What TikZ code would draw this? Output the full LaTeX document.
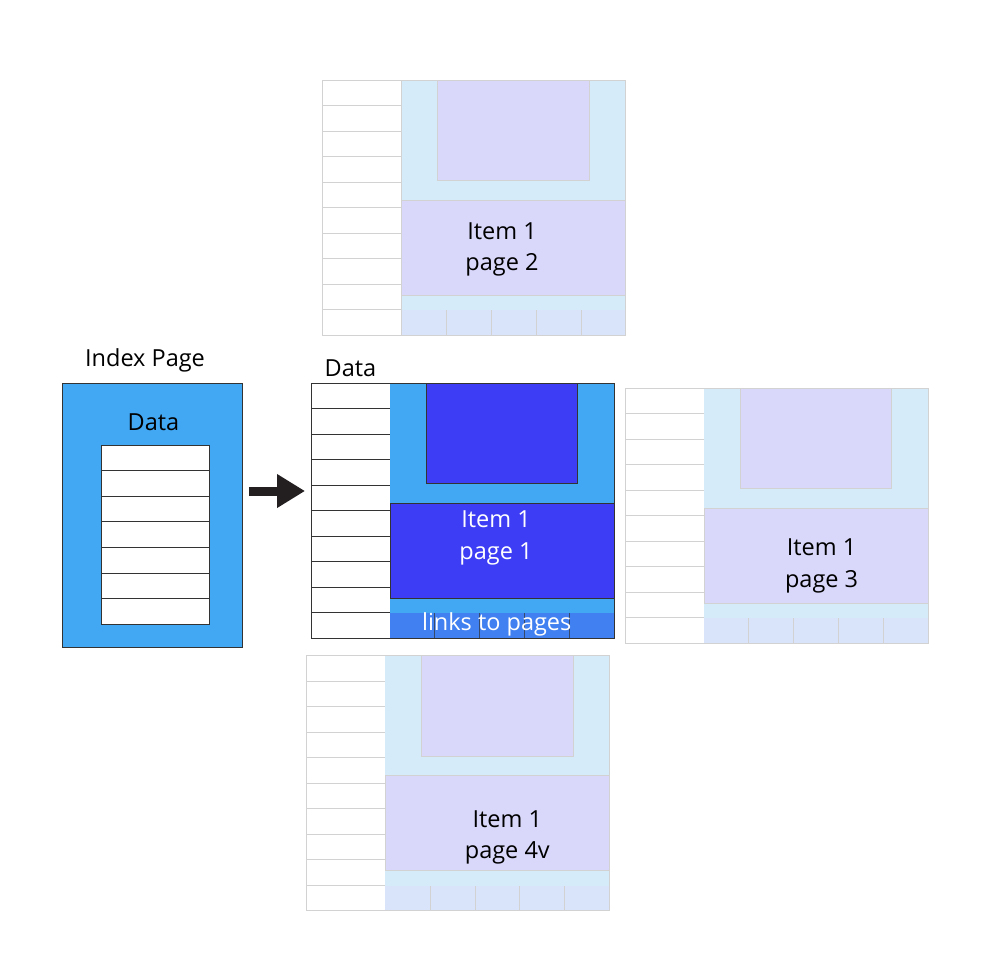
\documentclass[tikz,border=0pt]{standalone}
\usepackage{fontspec}
\setmainfont{Open Sans}
\usetikzlibrary{arrows.meta}
\definecolor{idxblue}{HTML}{42A8F4}
\definecolor{deepblue}{HTML}{3D3DF5}
\definecolor{linkblue}{HTML}{4080F0}
\definecolor{fadelight}{HTML}{D6EBFA}
\definecolor{fadepurple}{HTML}{D9D8FA}
\definecolor{fadelinks}{HTML}{D9E4FA}
\definecolor{fadegrid}{HTML}{D2D2D2}
\definecolor{darkline}{HTML}{333333}
\definecolor{arrowcol}{HTML}{231F20}
\tikzset{
  act grid/.style={draw=darkline, line width=0.9pt, fill=white},
  act light/.style={fill=idxblue},
  act inner/.style={draw=darkline, line width=0.9pt, fill=deepblue},
  act item/.style={draw=darkline, line width=0.9pt, fill=deepblue},
  act links/.style={fill=linkblue},
  act div/.style={draw=darkline!70!linkblue, line width=0.7pt},
  act outline/.style={draw=darkline, line width=0.9pt},
  act text/.style={text=white},
  fade grid/.style={draw=fadegrid, line width=0.8pt, fill=white},
  fade light/.style={fill=fadelight},
  fade inner/.style={draw=fadegrid, line width=0.8pt, fill=fadepurple},
  fade item/.style={draw=fadegrid, line width=0.8pt, fill=fadepurple},
  fade links/.style={fill=fadelinks},
  fade div/.style={draw=fadegrid, line width=0.7pt},
  fade outline/.style={draw=fadegrid, line width=0.8pt},
  fade text/.style={text=black},
  lbl/.style={font=\fontsize{23.5}{31.5}\selectfont, inner sep=0pt},
  pagebox/.style={rectangle, minimum width=303pt, minimum height=255pt, inner sep=0pt, anchor=north west},
  bigarrow/.style={draw=arrowcol, line width=9pt, -{Triangle[length=28pt,width=32pt]}, shorten <=6pt, shorten >=6pt},
}
% #1 name, #2 x, #3 y, #4 scheme, #5 text x, #6 text y, #7 label
\newcommand{\dbpage}[7]{%
  \begin{scope}[shift={(#2,#3)}]
    \node[pagebox] (#1) at (0,0) {};
    \foreach \i in {0,...,9}
      \path[#4 grid] (0,\i*25.5) rectangle (79,\i*25.5+25.5);
    \path[#4 light] (79,0) rectangle (303,255);
    \path[#4 inner] (115,0) rectangle (266.7,100.7);
    \path[#4 item] (79,120) rectangle (303,215);
    \path[#4 links] (79,230) rectangle (303,255);
    \foreach \k in {1,...,4}
      \path[#4 div] (79+\k*44.8,230) -- (79+\k*44.8,255);
    \path[#4 outline] (0,0) rectangle (303,255);
    \node[lbl, #4 text, align=center] (#1-label) at (#5,#6) {#7};
  \end{scope}}
\begin{document}
\begin{tikzpicture}[x=1pt,y=-1pt]
  \useasboundingbox (0,0) rectangle (1000,959);
  \fill[white] (0,0) rectangle (1000,959);

  % index page
  \node[lbl, anchor=base] (idxtitle) at (145,366.7) {Index Page};
  \node[rectangle, draw=darkline, line width=0.9pt, fill=idxblue,
        minimum width=180pt, minimum height=264pt, inner sep=0pt] (idx) at (152.5,515) {};
  \node[lbl, anchor=base] (idxdata) at (153.5,430) {Data};
  \foreach \i in {0,...,6}
    \path[act grid] (101,445.3+\i*25.53) rectangle (209.3,445.3+\i*25.53+25.53);

  % faded pages
  \dbpage{p2}{322.7}{80}{fade}{179.3}{169.5}{Item 1\\page 2}
  \dbpage{p3}{625}{388}{fade}{196.6}{178}{Item 1\\page 3}
  \dbpage{p4}{306.3}{655.7}{fade}{201}{181.6}{Item 1\\page 4v}

  % active page
  \dbpage{p1}{311}{383}{act}{185}{155}{Item 1\\page 1}
  \node[lbl, anchor=base] (p1data) at (350.5,376.7) {Data};
  \node[lbl, anchor=base, text=white] (p1links) at (496.7,630.7) {links to pages};

  % arrow
  \coordinate (arrowy) at (0,491);
  \draw[bigarrow] (idx.east |- arrowy) -- (p1.west |- arrowy);
\end{tikzpicture}
\end{document}
